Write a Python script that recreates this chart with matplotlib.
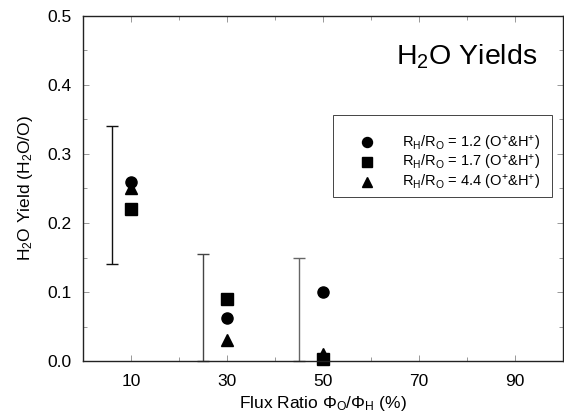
import matplotlib
matplotlib.use("Agg")
import matplotlib.pyplot as plt
from matplotlib.ticker import MultipleLocator
from matplotlib.patches import Rectangle

plt.rcParams['font.family'] = ['Liberation Sans', 'DejaVu Sans']
plt.rcParams['mathtext.fontset'] = 'custom'
plt.rcParams['mathtext.rm'] = 'Liberation Sans'
plt.rcParams['mathtext.it'] = 'Liberation Sans'

flux = [10, 30, 50]
y_r12 = [0.26, 0.063, 0.10]
y_r17 = [0.22, 0.09, 0.003]
y_r44 = [0.25, 0.03, 0.01]

err_x = [6, 25, 45]
err_lo = [0.14, 0.0, 0.0]
err_hi = [0.34, 0.155, 0.15]
err_col = ['#111111', '#444444', '#666666']

labels = [r'R$_\mathregular{H}$/R$_\mathregular{O}$ = 1.2 (O$^\mathregular{+}$&H$^\mathregular{+}$)',
          r'R$_\mathregular{H}$/R$_\mathregular{O}$ = 1.7 (O$^\mathregular{+}$&H$^\mathregular{+}$)',
          r'R$_\mathregular{H}$/R$_\mathregular{O}$ = 4.4 (O$^\mathregular{+}$&H$^\mathregular{+}$)']

fig = plt.figure(figsize=(5.64, 4.16), dpi=100)
ax = fig.add_axes([0.147, 0.132, 0.851, 0.830])

for x, lo, hi, c in zip(err_x, err_lo, err_hi, err_col):
    ax.errorbar([x], [(lo + hi) / 2], yerr=[(hi - lo) / 2], fmt='none',
                ecolor=c, elinewidth=1.0, capsize=4.5, capthick=1.0, clip_on=False)

ax.plot(flux, y_r12, 'o', color='black', ms=8, label=labels[0], clip_on=False)
ax.plot(flux, y_r17, 's', color='black', ms=8, label=labels[1], clip_on=False)
ax.plot(flux, y_r44, '^', color='black', ms=8, label=labels[2], clip_on=False)

ax.set_xlim(0, 100)
ax.set_ylim(0, 0.5)
ax.set_xticks([10, 30, 50, 70, 90])
ax.xaxis.set_minor_locator(MultipleLocator(10))
ax.yaxis.set_major_locator(MultipleLocator(0.1))
ax.yaxis.set_minor_locator(MultipleLocator(0.05))
ax.yaxis.set_major_formatter(matplotlib.ticker.FormatStrFormatter('%.1f'))
ax.xaxis.set_minor_formatter(matplotlib.ticker.NullFormatter())
ax.tick_params(which='both', direction='in', top=True, right=True, labelsize=12.5)
ax.tick_params(which='major', length=4, width=0.6, colors='#888888', labelcolor='black')
ax.tick_params(which='minor', length=3, width=0.6, colors='#888888')
ax.tick_params(axis='x', which='major', pad=9)
ax.tick_params(axis='y', which='major', pad=8)
for s in ax.spines.values():
    s.set_linewidth(1.0)
    s.set_color('#222222')

ax.set_xlabel(r'Flux Ratio $\Phi_\mathregular{O}$/$\Phi_\mathregular{H}$ (%)', fontsize=12.5, labelpad=4)
ax.set_ylabel(r'H$_\mathregular{2}$O Yield (H$_\mathregular{2}$O/O)', fontsize=12.5, labelpad=9)

ax.text(0.946, 0.88, r'H$_\mathregular{2}$O Yields', transform=ax.transAxes,
        fontsize=20.5, ha='right', va='center')

leg = ax.legend(loc='center left', bbox_to_anchor=(0.573, 0.574), fontsize=10.5,
                frameon=False, handlelength=1.2, handletextpad=1.8, borderpad=0,
                labelspacing=0.05, borderaxespad=0, markerscale=0.9)

ax.add_patch(Rectangle((0.521, 0.475), 0.456, 0.238, transform=ax.transAxes,
                       fill=False, edgecolor='#444444', linewidth=0.7))

fig.savefig('out.png', dpi=100)
